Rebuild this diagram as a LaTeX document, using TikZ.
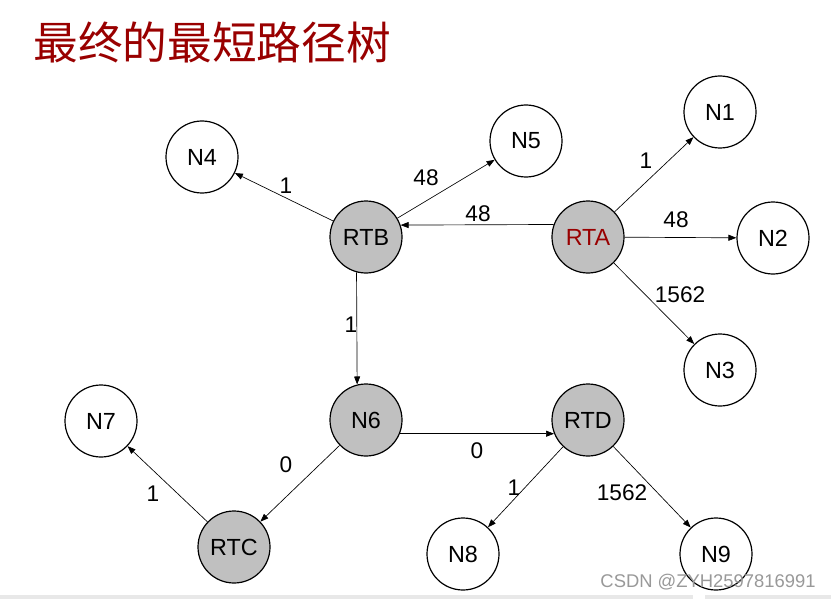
\documentclass[tikz,border=0pt]{standalone}
\usepackage{fontspec}
\setmainfont{Liberation Sans}
\newfontfamily\cjk{Noto Sans CJK SC}
\usetikzlibrary{arrows.meta}
\definecolor{titlered}{HTML}{990000}
\definecolor{nodegray}{HTML}{C0C0C0}
\begin{document}
\begin{tikzpicture}[x=0.75pt,y=-0.75pt,
  plain/.style={circle,draw=black,line width=0.9pt,fill=white,minimum size=54pt,inner sep=0pt,font=\fontsize{17.5}{20}\selectfont},
  router/.style={plain,fill=nodegray},
  arr/.style={-{Triangle[length=6pt,width=4.5pt]},line width=0.5pt},
  lbl/.style={font=\fontsize{17}{20}\selectfont,inner sep=0pt}]
\useasboundingbox (0,0) rectangle (831,599);
\fill[white] (0,0) rectangle (831,599);
\fill[black!9] (0,595) rectangle (693,599);
\fill[black!9] (705,595) rectangle (831,599);
\node[font=\cjk\fontsize{33.5}{38}\selectfont,text=titlered,inner sep=0pt] (title) at (212,42) {最终的最短路径树};
% nodes
\node[router] (rtb) at (366,237) {RTB};
\node[router,text=titlered] (rta) at (588,237) {RTA};
\node[plain] (n1) at (720,112) {N1};
\node[plain] (n2) at (773,238) {N2};
\node[plain] (n3) at (720,370) {N3};
\node[plain] (n4) at (202,157) {N4};
\node[plain] (n5) at (526,141) {N5};
\node[router] (n6) at (366,420) {N6};
\node[router] (rtd) at (588,420) {RTD};
\node[plain] (n7) at (101,421) {N7};
\node[router] (rtc) at (234,547) {RTC};
\node[plain] (n8) at (463,554) {N8};
\node[plain] (n9) at (716,554) {N9};
% edges
\draw[arr] (rtb) -- (n4);
\draw[arr] (rtb) -- (n5);
\draw[arr] (rta.160.5) -- (rtb.19.5);
\draw[arr] (rta) -- (n1);
\draw[arr] (rta) -- (n2);
\draw[arr] (rta) -- (n3);
\draw[arr] (rtb.255.5) -- (n6.104.5);
\draw[arr] (n6) -- (rtc);
\draw[arr] (n6.-22.9) -- (rtd.202.9);
\draw[arr] (rtc) -- (n7);
\draw[arr] (rtd) -- (n8);
\draw[arr] (rtd) -- (n9);
% labels
\node[lbl] (l1) at (286,186) {1};
\node[lbl] (l2) at (426,178) {48};
\node[lbl] (l3) at (478,214) {48};
\node[lbl] (l4) at (646,161) {1};
\node[lbl] (l5) at (676,220) {48};
\node[lbl] (l6) at (680,295) {1562};
\node[lbl] (l7) at (351,325) {1};
\node[lbl] (l8) at (286,465) {0};
\node[lbl] (l9) at (477,451) {0};
\node[lbl] (l10) at (153,494) {1};
\node[lbl] (l11) at (514,488) {1};
\node[lbl] (l12) at (622,493) {1562};
\node[font=\fontsize{13.8}{16}\selectfont,text=black!40,inner sep=0pt] (wm) at (708,582) {CSDN @ZYH2597816991};
\end{tikzpicture}
\end{document}
